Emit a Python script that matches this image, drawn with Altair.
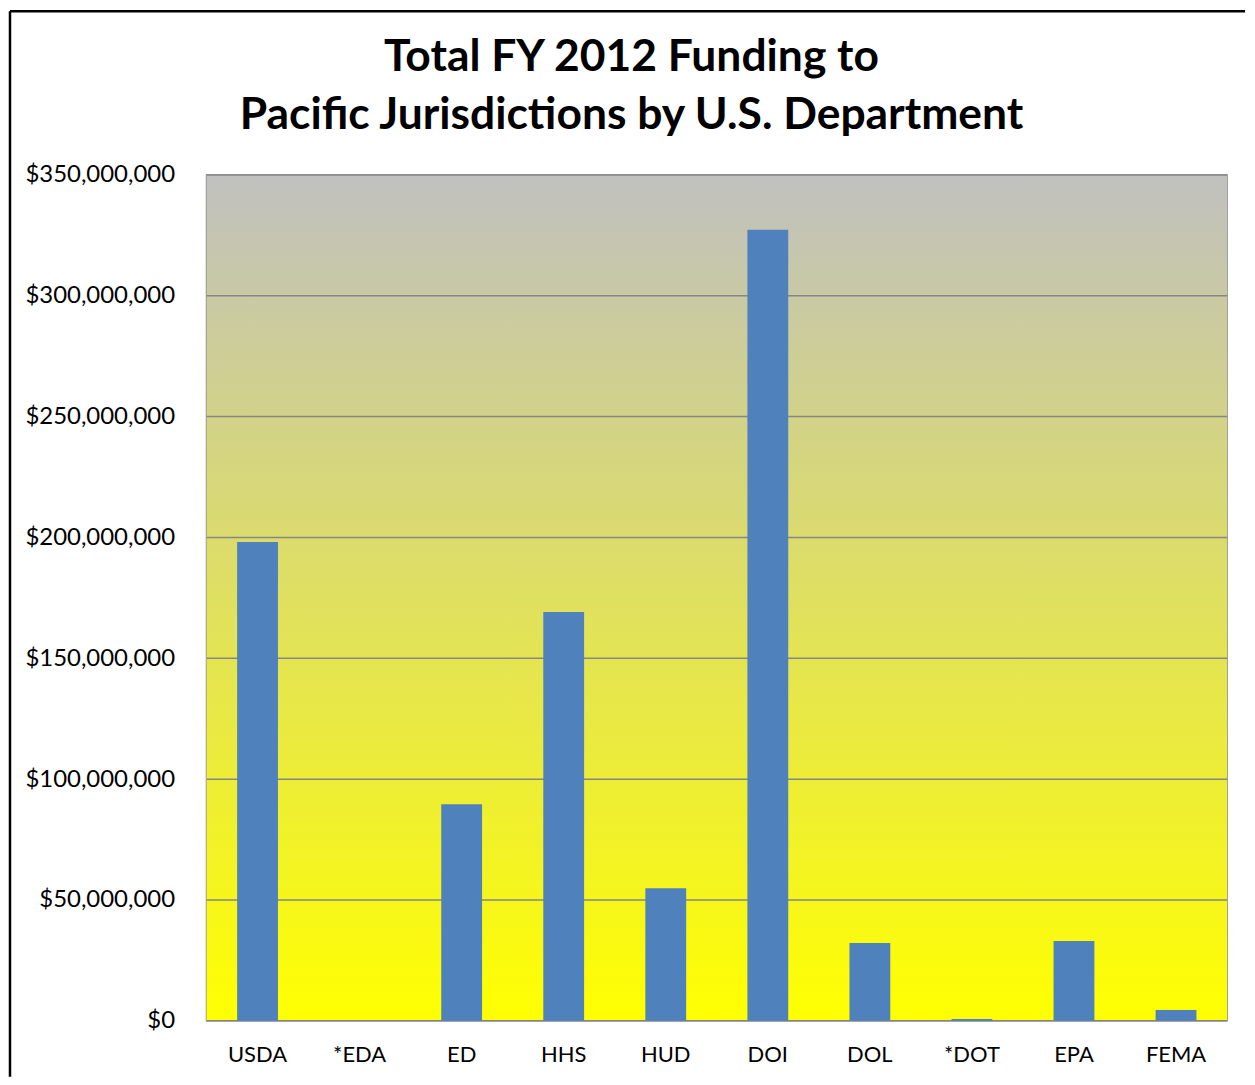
import altair as alt
import pandas as pd

departments = ["USDA", "*EDA", "ED", "HHS", "HUD", "DOI", "DOL", "*DOT", "EPA", "FEMA"]
funding = [198100000, 0, 89600000, 169200000, 54900000, 327300000, 32200000, 800000, 33000000, 4500000]
y_ticks = [0, 50000000, 100000000, 150000000, 200000000, 250000000, 300000000, 350000000]
title_lines = ["Total FY 2012 Funding to", "Pacific Jurisdictions by U.S. Department"]

df = pd.DataFrame({"dept": departments, "funding": funding})
grid_df = pd.DataFrame({"v": y_ticks})

W, H = 1023, 848
FONT = "Lato"

gradient = alt.Gradient(
    gradient="linear",
    stops=[alt.GradientStop(color="#C0C0C0", offset=0),
           alt.GradientStop(color="#FFFF00", offset=1)],
    x1=0, x2=0, y1=0, y2=1,
)

one = alt.Data(values=[{}])

bg = alt.Chart(one).mark_rect(fill=gradient).encode(
    x=alt.value(0), x2=alt.value(W), y=alt.value(0), y2=alt.value(H)
)

ysc = alt.Scale(domain=[0, 350000000], nice=False)
yaxis = alt.Axis(title=None, values=y_ticks, format="$,.0f", ticks=False,
                 domain=False, labelPadding=32, labelFontSize=24,
                 labelColor="black", labelFont=FONT, grid=False)

grid = alt.Chart(grid_df).mark_rule(color="#868686", strokeWidth=1.5).encode(
    y=alt.Y("v:Q", scale=ysc, axis=yaxis)
)

bars = alt.Chart(df).mark_bar(color="#4F81BD").encode(
    x=alt.X("dept:N", sort=departments,
            scale=alt.Scale(paddingInner=0.6, paddingOuter=0.3),
            axis=alt.Axis(title=None, labelAngle=0, ticks=False, domain=False,
                          labelPadding=24, labelFontSize=22, labelColor="black",
                          labelFont=FONT, grid=False)),
    y=alt.Y("funding:Q", scale=ysc, axis=yaxis),
)

frame_left = alt.Chart(one).mark_rule(color="black", strokeWidth=2.5).encode(
    x=alt.value(-197), y=alt.value(-164), y2=alt.value(904)
)
frame_top = alt.Chart(one).mark_rule(color="black", strokeWidth=2.5).encode(
    x=alt.value(-197), x2=alt.value(1041), y=alt.value(-164)
)

title1 = alt.Chart(alt.Data(values=[{"t": title_lines[0]}])).mark_text(
    font=FONT, fontSize=44.5, fontWeight="bold", color="black",
    align="center", baseline="alphabetic"
).encode(text="t:N", x=alt.value(426), y=alt.value(-104))

title2 = alt.Chart(alt.Data(values=[{"t": title_lines[1]}])).mark_text(
    font=FONT, fontSize=44.5, fontWeight="bold", color="black",
    align="center", baseline="alphabetic"
).encode(text="t:N", x=alt.value(426), y=alt.value(-46))

chart = alt.layer(bg, grid, bars, frame_left, frame_top, title1, title2).properties(
    width=W, height=H, padding=0,
).configure_view(stroke="#868686", strokeWidth=1.5)

chart.save("out.html", embed_options={"renderer": "svg", "actions": False})
